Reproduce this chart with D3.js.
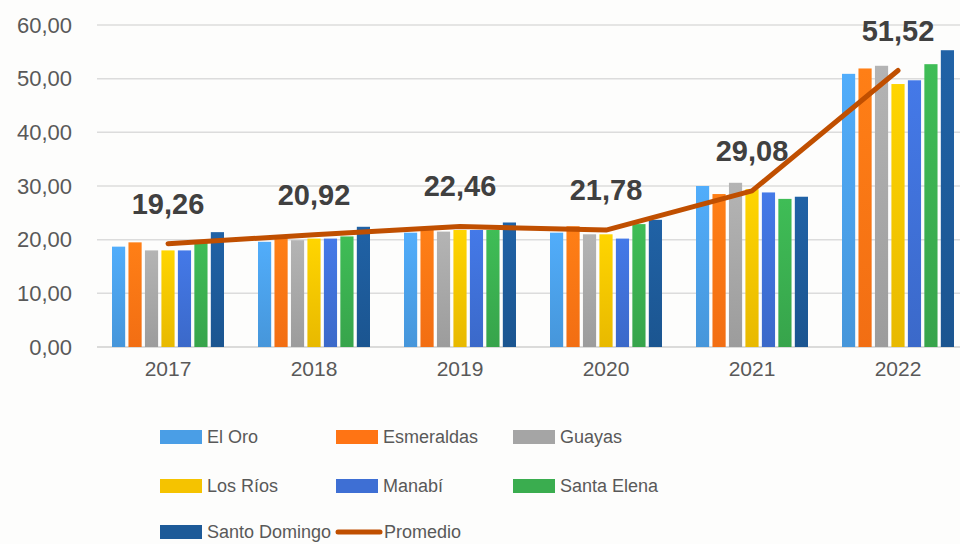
<!DOCTYPE html>
<html>
<head>
<meta charset="utf-8">
<script src="https://cdn.jsdelivr.net/npm/d3@7"></script>
<style>
  body { margin: 0; background: #fdfdfc; }
  svg { display: block; font-family: "Liberation Sans", Arial, sans-serif; }
</style>
</head>
<body>
<div id="chart"></div>
<script>
var years = ["2017", "2018", "2019", "2020", "2021", "2022"]
var provinces = ["El Oro", "Esmeraldas", "Guayas", "Los Ríos", "Manabí", "Santa Elena", "Santo Domingo"]
var elOro        = [18.7, 19.6, 21.3, 21.3, 30.0, 50.9]
var esmeraldas   = [19.5, 20.2, 21.8, 22.5, 28.5, 51.9]
var guayas       = [18.0, 19.9, 21.5, 21.0, 30.6, 52.4]
var losRios      = [18.0, 20.2, 21.8, 21.0, 29.4, 49.0]
var manabi       = [18.0, 20.2, 21.8, 20.2, 28.8, 49.7]
var santaElena   = [19.4, 20.6, 21.8, 22.9, 27.6, 52.7]
var santoDomingo = [21.4, 22.4, 23.2, 23.7, 28.0, 55.3]
var promedio     = [19.26, 20.92, 22.46, 21.78, 29.08, 51.52]
var yTicks = [0, 10, 20, 30, 40, 50, 60]

var seriesValues = [elOro, esmeraldas, guayas, losRios, manabi, santaElena, santoDomingo]
var colors = ["#4a9ee6", "#ff7414", "#a5a5a5", "#f5c300", "#3e6fd4", "#3aad4f", "#1d5a98"]
var lineColor = "#c04f00"

var width = 960, height = 544

var svg = d3.select("#chart").append("svg")
  .attr("width", width)
  .attr("height", height)

var defs = svg.append("defs")
colors.forEach(function(c, i) {
  var g = defs.append("linearGradient")
    .attr("id", "grad" + i)
    .attr("x1", 0).attr("y1", 0).attr("x2", 0).attr("y2", 1)
  g.append("stop").attr("offset", "0%").attr("stop-color", d3.color(c).brighter(0.25))
  g.append("stop").attr("offset", "100%").attr("stop-color", d3.color(c).darker(0.15))
})

var x = d3.scaleBand()
  .domain(years)
  .range([95, 971])

var x1 = d3.scaleBand()
  .domain(provinces)
  .range([-56, 56])
  .paddingInner(0.2)

var y = d3.scaleLinear()
  .domain([0, 60])
  .range([347, 25])

// grid
svg.append("g")
  .selectAll("line")
  .data(yTicks)
  .enter()
  .append("line")
    .attr("x1", 97)
    .attr("x2", width)
    .attr("y1", function(d) { return y(d) })
    .attr("y2", function(d) { return y(d) })
    .attr("stroke", function(d) { return d === 0 ? "#cfcfcf" : "#dcdcdc" })
    .attr("stroke-width", 1.5)

// y axis labels
var yAxis = svg.append("g")
  .attr("transform", "translate(78,0)")
  .call(d3.axisLeft(y).tickValues(yTicks).tickSize(0).tickPadding(6)
    .tickFormat(function(d) { return d3.format(".2f")(d).replace(".", ",") }))
yAxis.select(".domain").remove()
yAxis.selectAll("text")
  .attr("font-size", 22)
  .attr("fill", "#595959")
  .attr("font-family", "Liberation Sans, Arial, sans-serif")

// x axis labels
var xAxis = svg.append("g")
  .attr("transform", "translate(0,347)")
  .call(d3.axisBottom(x).tickSize(0).tickPadding(14))
xAxis.select(".domain").remove()
xAxis.selectAll("text")
  .attr("font-size", 21)
  .attr("fill", "#595959")
  .attr("font-family", "Liberation Sans, Arial, sans-serif")

// bars
var groups = svg.append("g")
  .selectAll("g")
  .data(years)
  .enter()
  .append("g")
    .attr("transform", function(d) { return "translate(" + (x(d) + x.bandwidth() / 2) + ",0)" })

groups.selectAll("rect")
  .data(function(d, i) {
    return provinces.map(function(p, j) { return { name: p, idx: j, value: seriesValues[j][i] } })
  })
  .enter()
  .append("rect")
    .attr("x", function(d) { return x1(d.name) })
    .attr("width", x1.bandwidth())
    .attr("y", function(d) { return y(d.value) })
    .attr("height", function(d) { return y(0) - y(d.value) })
    .attr("fill", function(d) { return "url(#grad" + d.idx + ")" })

// average line
var line = d3.line()
  .x(function(d, i) { return x(years[i]) + x.bandwidth() / 2 })
  .y(function(d) { return y(d) })

svg.append("path")
  .datum(promedio)
  .attr("d", line)
  .attr("fill", "none")
  .attr("stroke", lineColor)
  .attr("stroke-width", 5)
  .attr("stroke-linecap", "round")
  .attr("stroke-linejoin", "round")

svg.append("g")
  .selectAll("text")
  .data(promedio)
  .enter()
  .append("text")
    .attr("x", function(d, i) { return x(years[i]) + x.bandwidth() / 2 })
    .attr("y", function(d) { return y(d) - 30 })
    .attr("text-anchor", "middle")
    .attr("font-size", 29)
    .attr("font-weight", "bold")
    .attr("fill", "#404040")
    .text(function(d) { return d3.format(".2f")(d).replace(".", ",") })

// legend
var legendItems = provinces.map(function(p, i) { return { name: p, color: colors[i], type: "bar" } })
legendItems.push({ name: "Promedio", color: lineColor, type: "line" })
var colX = [160, 336, 513]
var rowY = [437, 486, 532]

var legend = svg.append("g")
  .selectAll("g")
  .data(legendItems)
  .enter()
  .append("g")
    .attr("transform", function(d, i) {
      var cx = i === 7 ? 336 : colX[i % 3]
      return "translate(" + cx + "," + rowY[Math.floor(i / 3)] + ")"
    })

legend.each(function(d) {
  var g = d3.select(this)
  if (d.type === "bar") {
    g.append("rect").attr("x", 0).attr("y", -7).attr("width", 42).attr("height", 14).attr("fill", d.color)
  } else {
    g.append("line").attr("x1", 2).attr("x2", 44).attr("y1", 0).attr("y2", 0)
      .attr("stroke", d.color).attr("stroke-width", 5).attr("stroke-linecap", "round")
  }
})

legend.append("text")
  .attr("x", function(d) { return d.type === "bar" ? 47 : 48 })
  .attr("y", 0)
  .attr("dy", "0.35em")
  .attr("font-size", 18)
  .attr("fill", "#595959")
  .text(function(d) { return d.name })
</script>
</body>
</html>
